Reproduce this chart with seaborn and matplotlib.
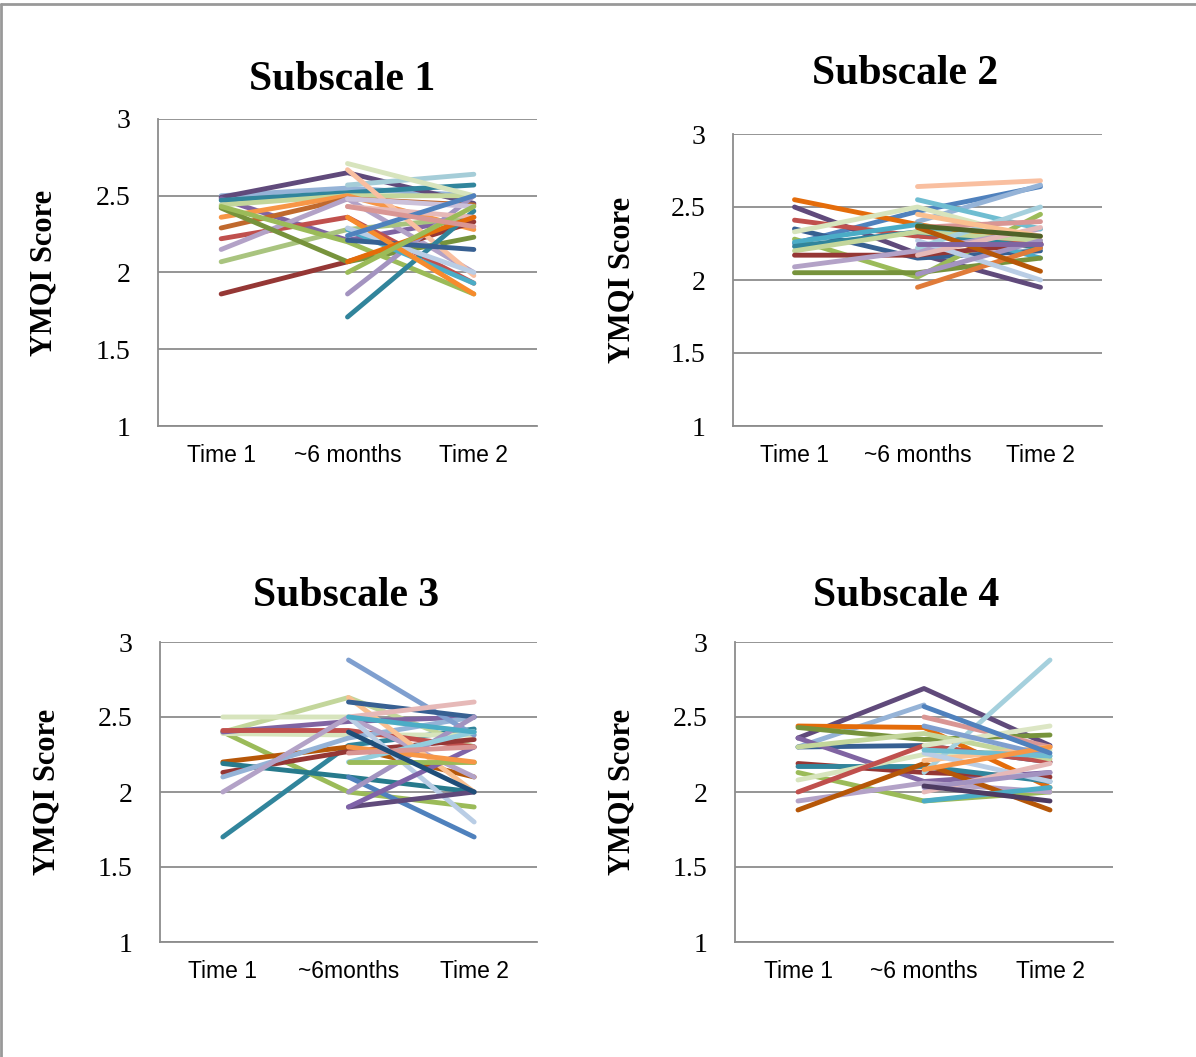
import numpy as np
import pandas as pd
import matplotlib
matplotlib.use("Agg")
import matplotlib.pyplot as plt
import seaborn as sns
from matplotlib.lines import Line2D

nan = np.nan

# ---------------- data ----------------
categories_a = ["Time 1", "~6 months", "Time 2"]
categories_b = ["Time 1", "~6months", "Time 2"]
ytick_values = [1, 1.5, 2, 2.5, 3]
ytick_labels = ["1", "1.5", "2", "2.5", "3"]
titles = ["Subscale 1", "Subscale 2", "Subscale 3", "Subscale 4"]
ylabel = "YMQI Score"

# Subscale 1
s1_time1 = [2.50, 2.49, 2.48, 2.47, 2.44, 2.36, 2.29, 2.22, 2.15, 2.07, 1.86, 2.42, 2.43,
            nan, nan, nan, nan, nan, nan, nan, nan, nan, nan, nan, nan, nan, nan, nan]
s1_month6 = [2.55, 2.65, 2.21, 2.52, 2.50, 2.50, 2.48, 2.36, 2.48, 2.28, 2.07, 2.07, 2.20,
             2.57, 2.71, 2.67, 1.71, 1.86, 2.28, 2.29, 2.43, 2.48, 2.21, 2.36, 2.07, 2.00, 2.24, 2.43]
s1_time2 = [2.50, 2.45, 2.36, 2.57, 2.50, 2.28, 2.44, 1.93, 2.00, 2.36, 2.33, 2.23, 1.86,
            2.64, 2.50, 1.98, 2.40, 2.50, 1.93, 2.00, 2.36, 2.43, 2.15, 1.86, 2.36, 2.43, 2.50, 2.30]
s1_colors = ["#95B3D7", "#604A7B", "#8064A2", "#31859C", "#C3D69B", "#F79646", "#C0692D",
             "#C0504D", "#B3A2C7", "#A9C47F", "#953735", "#77933C", "#9BBB59",
             "#A5CDD8", "#D7E4BD", "#F9BFA0", "#31849B", "#A393C0", "#4BACC6", "#B9CDE5",
             "#E6B9B8", "#CCC1DA", "#376092", "#F68B2D", "#E46C0A", "#9BBB59", "#4F81BD", "#D99694"]

# Subscale 2
s2_time1 = [nan, 2.25, nan, 2.55, 2.50, 2.41, 2.35, 2.33, 2.28, 2.26, 2.23, 2.20, 2.17, 2.09, 2.05,
            nan, nan, nan, nan, nan, nan, nan, nan, nan, nan, nan]
s2_month6 = [2.64, 2.47, 2.40, 2.38, 2.18, 2.30, 2.15, 2.50, 2.02, 2.38, 2.33, 2.33, 2.17, 2.20, 2.05,
             2.55, 1.95, 2.27, 2.22, 2.17, 2.36, 2.04, 2.36, 2.45, 2.37, 2.25]
s2_time2 = [2.68, 2.64, 2.65, 2.25, 1.95, 2.25, 2.20, 2.27, 2.45, 2.15, 2.22, 2.27, 2.25, 2.35, 2.15,
            2.35, 2.22, 2.00, 2.50, 2.36, 2.40, 2.27, 2.06, 2.30, 2.30, 2.25]
s2_colors = ["#F9BFA0", "#4F81BD", "#95B3D7", "#E46C0A", "#604A7B", "#C0504D", "#376092",
             "#D7E4BD", "#9BBB59", "#4BACC6", "#31859C", "#C3D69B", "#953735", "#B3A2C7",
             "#77933C", "#6FBDD1", "#E07B39", "#B9CDE5", "#A5D0DD", "#E6B9B8", "#D99694",
             "#A393C0", "#B65708", "#FAC090", "#4F6228", "#8064A2"]

# Subscale 3
s3_time1 = [1.70, 2.40, 2.40, 2.50, 2.39, 2.40, 2.41, 2.20, 2.13, 2.19, 2.10, 2.00,
            nan, nan, nan, nan, nan, nan, nan, nan, nan, nan, nan, nan, nan, nan, nan]
s3_month6 = [2.31, 2.00, 2.63, 2.50, 2.38, 2.47, 2.41, 2.30, 2.27, 2.10, 2.36, 2.50,
             2.88, 2.63, 2.60, 2.50, 2.50, 2.10, 1.90, 1.90, 2.00, 2.20, 2.20, 2.30, 2.26, 2.50, 2.40]
s3_time2 = [2.42, 1.90, 2.30, 2.40, 2.38, 2.50, 2.30, 2.10, 2.35, 2.00, 2.50, 2.10,
            2.38, 2.00, 2.50, 2.60, 1.80, 1.70, 2.00, 2.30, 2.50, 2.40, 2.20, 2.20, 2.30, 2.40, 2.00]
s3_colors = ["#31859C", "#9BBB59", "#C3D69B", "#D7E4BD", "#D7E4BD", "#8064A2", "#C0504D",
             "#B65708", "#953735", "#277A8C", "#95B3D7", "#B3A2C7",
             "#7F9FCF", "#FAC090", "#376092", "#E6B9B8", "#B9CDE5", "#4F81BD", "#604A7B",
             "#7F63A8", "#A393C0", "#93CDDD", "#9BBB59", "#F79646", "#D99694", "#4BACC6", "#1F4E79"]

# Subscale 4
s4_time1 = [2.36, 2.30, 2.30, 2.44, 2.43, 2.36, 2.19, 2.17, 2.13, 2.08, 2.00, 1.94, 1.88, 2.30,
            nan, nan, nan, nan, nan, nan, nan, nan, nan, nan, nan, nan, nan]
s4_month6 = [2.69, 2.58, 2.31, 2.43, 2.35, 2.07, 2.13, 2.17, 1.94, 2.25, 2.31, 2.06, 2.19, 2.39,
             2.13, 2.50, 2.31, 2.21, 2.26, 1.94, 2.00, 2.03, 2.04, 2.44, 2.28, 2.15, 2.57]
s4_time2 = [2.31, nan, 2.20, 2.03, 2.38, 2.13, 2.10, 2.07, 2.00, 2.28, 2.20, 2.00, 1.88, 2.22,
            2.88, 2.30, 2.44, 2.30, 2.07, 2.03, 2.19, 2.13, 1.94, 2.24, 2.24, 2.30, 2.26]
s4_colors = ["#604A7B", "#95B3D7", "#376092", "#E46C0A", "#77933C", "#8064A2", "#953735",
             "#31859C", "#9BBB59", "#D7E4BD", "#C0504D", "#B3A2C7", "#B65708", "#C3D69B",
             "#A5D0DD", "#D99694", "#DCE6C4", "#FAC090", "#B9CDE5", "#4BACC6", "#E6B9B8",
             "#A393C0", "#4D3B62", "#7F9FCF", "#6FBDD1", "#F79646", "#4F81BD"]

# ---------------- drawing ----------------
GREY = "#8C8C8C"
sns.set_style("white")
plt.rcParams["font.family"] = ["Liberation Serif", "DejaVu Serif"]
plt.rcParams["text.color"] = "black"
plt.rcParams["axes.labelcolor"] = "black"

fig = plt.figure(figsize=(11.96, 10.57), dpi=100)
W, H = 1196.0, 1057.0


def rect(left, right, top, bottom):
    return [left / W, (H - bottom) / H, (right - left) / W, (bottom - top) / H]


panels = [
    (rect(158, 537, 119, 426), s1_time1, s1_month6, s1_time2, s1_colors, categories_a, (342, 90)),
    (rect(733, 1102, 134, 426), s2_time1, s2_month6, s2_time2, s2_colors, categories_a, (905, 84)),
    (rect(160, 537, 642, 942), s3_time1, s3_month6, s3_time2, s3_colors, categories_b, (346, 606)),
    (rect(735, 1113, 642, 942), s4_time1, s4_month6, s4_time2, s4_colors, categories_a, (906, 606)),
]

for k, (pos, t1, m6, t2, cols, cats, tpos) in enumerate(panels):
    ax = fig.add_axes(pos)
    rows = []
    for i in range(len(t1)):
        name = f"P{i:02d}"
        for j, v in enumerate([t1[i], m6[i], t2[i]]):
            rows.append({"subject": name, "time": j, "score": v})
    df = pd.DataFrame(rows).dropna()
    order = [f"P{i:02d}" for i in range(len(t1))]
    sns.lineplot(data=df, x="time", y="score", hue="subject", hue_order=order,
                 palette=cols, legend=False, estimator=None, sort=False,
                 linewidth=3.5, solid_capstyle="round", solid_joinstyle="round", ax=ax)

    ax.set_xlim(-0.5, 2.5)
    ax.set_ylim(1, 3)
    ax.set_yticks(ytick_values)
    ax.set_yticklabels(ytick_labels)
    ax.set_xticks([0, 1, 2])
    ax.set_xticklabels(cats)
    ax.set_xticks([-0.5, 0.5, 1.5, 2.5], minor=True)
    ax.set_xlabel("")
    ax.set_ylabel(ylabel, fontsize=22, fontweight="bold", family="Liberation Serif",
                  color="black")
    ax.yaxis.set_label_coords(-0.262, 0.5)

    ax.tick_params(axis="x", which="major", length=0, pad=13, labelsize=16.5,
                   labelfontfamily="Liberation Sans", labelcolor="black")
    ax.tick_params(axis="x", which="minor", length=6, width=1.3, color=GREY, direction="out")
    ax.tick_params(axis="y", which="major", length=7, width=1.3, color=GREY, direction="out",
                   pad=13, labelsize=20, labelfontfamily="Liberation Serif", labelcolor="black")
    ax.yaxis.grid(True, color=GREY, linewidth=1.3)
    ax.xaxis.grid(False)
    ax.set_axisbelow(True)
    for s in ["top", "right"]:
        ax.spines[s].set_visible(False)
    for s in ["left", "bottom"]:
        ax.spines[s].set_color(GREY)
        ax.spines[s].set_linewidth(1.3)

    fig.text(tpos[0] / W, 1 - tpos[1] / H, titles[k], ha="center", va="baseline",
             fontsize=30, fontweight="bold", family="Liberation Serif", color="black")

# outer border (top and left edges visible)
fig.add_artist(Line2D([0.0012, 1.0], [1 - 4 / H, 1 - 4 / H], transform=fig.transFigure,
                      color="#999999", linewidth=2))
fig.add_artist(Line2D([0.0012, 0.0012], [0.0, 1 - 4 / H], transform=fig.transFigure,
                      color="#999999", linewidth=2))

fig.savefig("out.png", dpi=100, facecolor="white")
